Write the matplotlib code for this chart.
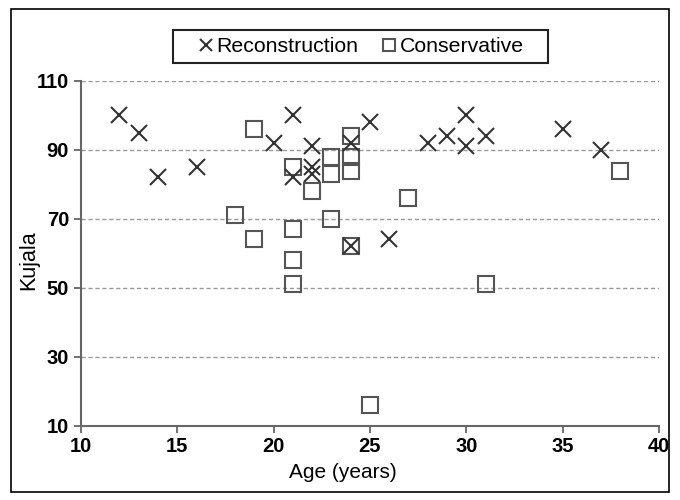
import matplotlib
matplotlib.use('Agg')
import matplotlib.pyplot as plt
from matplotlib.patches import Rectangle

plt.rcParams['font.family'] = ['Liberation Sans', 'DejaVu Sans']

# Reconstruction group (age, Kujala score)
rec_age = [12, 13, 14, 16, 20, 21, 21, 22, 22, 22, 24, 24, 25, 26, 28, 29, 30, 30, 31, 35, 37]
rec_kujala = [100, 95, 82, 85, 92, 100, 82, 91, 85, 83, 92, 62, 98, 64, 92, 94, 100, 91, 94, 96, 90]

# Conservative group
con_age = [18, 19, 19, 21, 21, 21, 21, 22, 23, 23, 23, 24, 24, 24, 24, 25, 27, 31, 38]
con_kujala = [71, 96, 64, 85, 67, 58, 51, 78, 88, 83, 70, 94, 88, 84, 62, 16, 76, 51, 84]

xticks = [10, 15, 20, 25, 30, 35, 40]
yticks = [10, 30, 50, 70, 90, 110]

fig = plt.figure(figsize=(6.8, 5), dpi=100)
ax = fig.add_axes([0.119, 0.149, 0.85, 0.689])

ax.plot(con_age, con_kujala, ls='none', marker='s', markersize=11,
        markerfacecolor='none', markeredgecolor='#555555', markeredgewidth=1.5,
        label='Conservative', zorder=3)
ax.plot(rec_age, rec_kujala, ls='none', marker='x', markersize=11,
        color='#333333', markeredgewidth=1.5, label='Reconstruction', zorder=4)

ax.set_xlim(10, 40)
ax.set_ylim(10, 110)
ax.set_xticks(xticks)
ax.set_yticks(yticks)
for lab in ax.get_xticklabels() + ax.get_yticklabels():
    lab.set_fontweight('bold')
ax.tick_params(labelsize=14.5, direction='out', length=5, width=1.3, color='#666666')

ax.set_xlabel('Age (years)', fontsize=15, labelpad=5)
ax.xaxis.label.set_x(0.453)
ax.set_ylabel('Kujala', fontsize=15.5)
ax.yaxis.set_label_coords(-0.072, 0.48)

ax.grid(axis='y', ls=(0, (3, 2)), color='#999999', lw=1)
ax.set_axisbelow(True)
for s in ['top', 'right']:
    ax.spines[s].set_visible(False)
for s in ['left', 'bottom']:
    ax.spines[s].set_color('#666666')
    ax.spines[s].set_linewidth(1.5)

handles, labels = ax.get_legend_handles_labels()
leg = fig.legend(handles[::-1], labels[::-1], loc='center', bbox_to_anchor=(0.5316, 0.907),
                 ncol=2, fontsize=15.3, frameon=False, handlelength=0.6,
                 handletextpad=0.2, columnspacing=1.15, borderpad=0.0, markerscale=0.85)

# legend frame drawn separately (padding is uneven in the original)
fig.patches.append(Rectangle((0.2544, 0.874), 0.5515, 0.066, transform=fig.transFigure,
                             fill=False, edgecolor='#222222', lw=1.5))

# outer border
fig.patches.append(Rectangle((0.016, 0.016), 0.968, 0.966, transform=fig.transFigure,
                             fill=False, edgecolor='black', lw=1.2))

fig.savefig('out.png', dpi=100)
